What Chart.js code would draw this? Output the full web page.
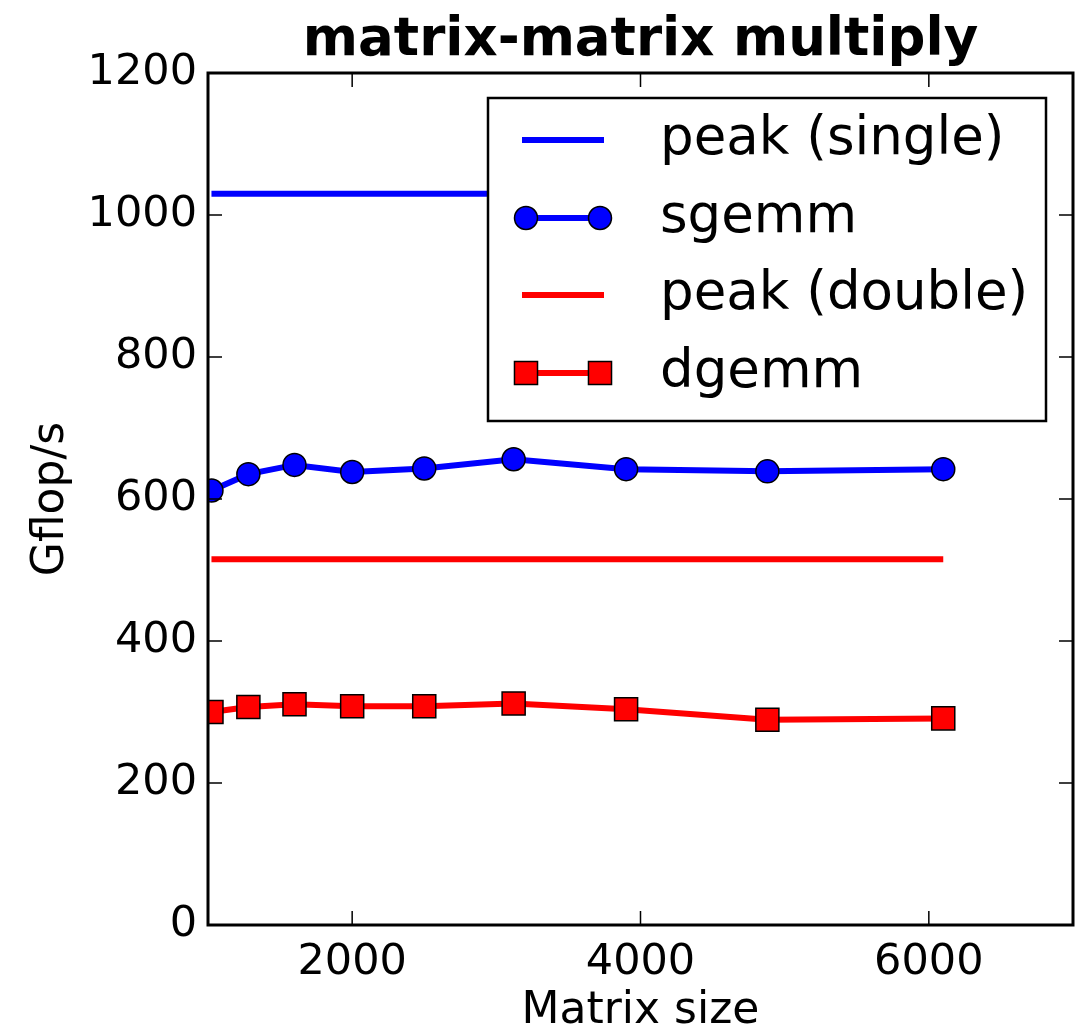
<!DOCTYPE html>
<html>
<head>
<meta charset="utf-8">
<script src="https://cdn.jsdelivr.net/npm/chart.js@4.4.0/dist/chart.umd.min.js"></script>
<style>
  html, body { margin: 0; padding: 0; background: #fff; }
  #wrap { width: 1085px; height: 1027px; }
</style>
</head>
<body>
<div id="wrap"><canvas id="myChart" width="1085" height="1027"></canvas></div>
<script>
'use strict';

// values
const sizes = [1024, 1280, 1600, 2000, 2500, 3120, 3900, 4880, 6100];
const sgemm = [612, 635, 648, 638, 643, 656, 642, 639, 642];
const dgemm = [300, 307, 311, 308, 308, 312, 304, 289, 291];
const peakSingle = 1030;
const peakDouble = 515;
const xTicks = [2000, 4000, 6000];
const yTicks = [0, 200, 400, 600, 800, 1000, 1200];
const seriesNames = ['peak (single)', 'sgemm', 'peak (double)', 'dgemm'];

const FONT = 'DejaVu Sans';

function toPoints(xs, ys) {
  let pts = [];
  for (let i = 0; i < xs.length; i++) {
    pts.push({ x: xs[i], y: ys[i] });
  }
  return pts;
}

function flatLine(value) {
  return [{ x: sizes[0], y: value }, { x: sizes[sizes.length - 1], y: value }];
}

// frame, inward ticks, titles and the boxed legend, drawn like the original
const decorations = {
  id: 'decorations',
  afterDatasetsDraw(chart) {
    const ctx = chart.ctx;
    const area = chart.chartArea;
    const xs = chart.scales.x;
    const ys = chart.scales.y;
    ctx.save();

    // inward tick marks on all four sides
    ctx.strokeStyle = '#000';
    ctx.lineWidth = 1.5;
    const tl = 14;
    ctx.beginPath();
    xTicks.forEach(v => {
      let px = xs.getPixelForValue(v);
      ctx.moveTo(px, area.bottom); ctx.lineTo(px, area.bottom - tl);
      ctx.moveTo(px, area.top); ctx.lineTo(px, area.top + tl);
    });
    yTicks.forEach(v => {
      let py = ys.getPixelForValue(v);
      ctx.moveTo(area.left, py); ctx.lineTo(area.left + tl, py);
      ctx.moveTo(area.right, py); ctx.lineTo(area.right - tl, py);
    });
    ctx.stroke();

    // frame
    ctx.lineWidth = 3;
    ctx.strokeRect(area.left, area.top, area.right - area.left, area.bottom - area.top);

    // title
    ctx.fillStyle = '#000';
    ctx.textAlign = 'center';
    ctx.textBaseline = 'alphabetic';
    ctx.font = 'bold 53px "' + FONT + '"';
    ctx.fillText('matrix-matrix multiply', (area.left + area.right) / 2, 55);

    // axis titles
    ctx.font = '44px "' + FONT + '"';
    ctx.fillText('Matrix size', (area.left + area.right) / 2, 1023);
    ctx.save();
    ctx.translate(63, (area.top + area.bottom) / 2);
    ctx.rotate(-Math.PI / 2);
    ctx.fillText('Gflop/s', 0, 0);
    ctx.restore();

    // legend box
    const box = { x: 488, y: 98, w: 558, h: 323 };
    ctx.fillStyle = '#fff';
    ctx.fillRect(box.x, box.y, box.w, box.h);
    ctx.lineWidth = 2.5;
    ctx.strokeStyle = '#000';
    ctx.strokeRect(box.x, box.y, box.w, box.h);

    const rowY = [140, 218, 295, 373];
    const datasets = chart.data.datasets;
    ctx.textAlign = 'left';
    ctx.textBaseline = 'middle';
    for (let i = 0; i < datasets.length; i++) {
      let ds = datasets[i];
      let y = rowY[i];
      ctx.strokeStyle = ds.borderColor;
      ctx.lineWidth = ds.borderWidth;
      ctx.beginPath();
      ctx.moveTo(522, y);
      ctx.lineTo(604, y);
      ctx.stroke();
      if (ds.pointRadius > 0) {
        [526, 600].forEach(mx => {
          ctx.fillStyle = ds.pointBackgroundColor;
          ctx.strokeStyle = '#000';
          ctx.lineWidth = ds.pointBorderWidth;
          ctx.beginPath();
          if (ds.pointStyle === 'rect') {
            let s = ds.pointRadius * Math.SQRT1_2;
            ctx.rect(mx - s, y - s, 2 * s, 2 * s);
          } else {
            ctx.arc(mx, y, ds.pointRadius, 0, Math.PI * 2);
          }
          ctx.fill();
          ctx.stroke();
        });
      }
      ctx.fillStyle = '#000';
      ctx.font = '53px "' + FONT + '"';
      ctx.fillText(ds.label, 660, y);
    }
    ctx.restore();
  }
};

function renderChart() {
  const ctx = document.getElementById('myChart').getContext('2d');

  let config = {
    type: 'line',
    data: {
      datasets: [
        {
          label: seriesNames[0],
          data: flatLine(peakSingle),
          borderColor: '#0000ff',
          borderWidth: 6,
          pointRadius: 0,
          order: 4,
          clip: 0
        },
        {
          label: seriesNames[1],
          data: toPoints(sizes, sgemm),
          borderColor: '#0000ff',
          borderWidth: 6,
          pointStyle: 'circle',
          pointRadius: 11.5,
          pointBackgroundColor: '#0000ff',
          pointBorderColor: '#000',
          pointBorderWidth: 1.5,
          order: 3,
          clip: 0
        },
        {
          label: seriesNames[2],
          data: flatLine(peakDouble),
          borderColor: '#ff0000',
          borderWidth: 6,
          pointRadius: 0,
          order: 2,
          clip: 0
        },
        {
          label: seriesNames[3],
          data: toPoints(sizes, dgemm),
          borderColor: '#ff0000',
          borderWidth: 6,
          pointStyle: 'rect',
          pointRadius: 16.3,
          pointBackgroundColor: '#ff0000',
          pointBorderColor: '#000',
          pointBorderWidth: 1.5,
          order: 1,
          clip: 0
        }
      ]
    },
    options: {
      responsive: false,
      animation: false,
      layout: { autoPadding: false, padding: { left: 0, right: 12, top: 73, bottom: 0 } },
      plugins: {
        legend: { display: false },
        title: { display: false },
        tooltip: { enabled: false }
      },
      scales: {
        x: {
          type: 'linear',
          min: 1000,
          max: 7000,
          afterBuildTicks: scale => { scale.ticks = xTicks.map(v => ({ value: v })); },
          afterFit: scale => {
            scale.height = 102;
            scale.paddingLeft = 0;
            scale.paddingRight = 0;
          },
          grid: { display: false },
          border: { display: false },
          ticks: {
            color: '#000',
            padding: 4,
            maxRotation: 0,
            callback: v => String(v),
            font: { family: FONT, size: 43 }
          }
        },
        y: {
          min: 0,
          max: 1200,
          afterBuildTicks: scale => { scale.ticks = yTicks.map(v => ({ value: v })); },
          afterFit: scale => { scale.width = 208; },
          grid: { display: false },
          border: { display: false },
          ticks: {
            color: '#000',
            padding: 3,
            callback: v => String(v),
            font: { family: FONT, size: 43 }
          }
        }
      }
    },
    plugins: [decorations]
  };
  const myChart = new Chart(ctx, config);
}

renderChart();
</script>
</body>
</html>
